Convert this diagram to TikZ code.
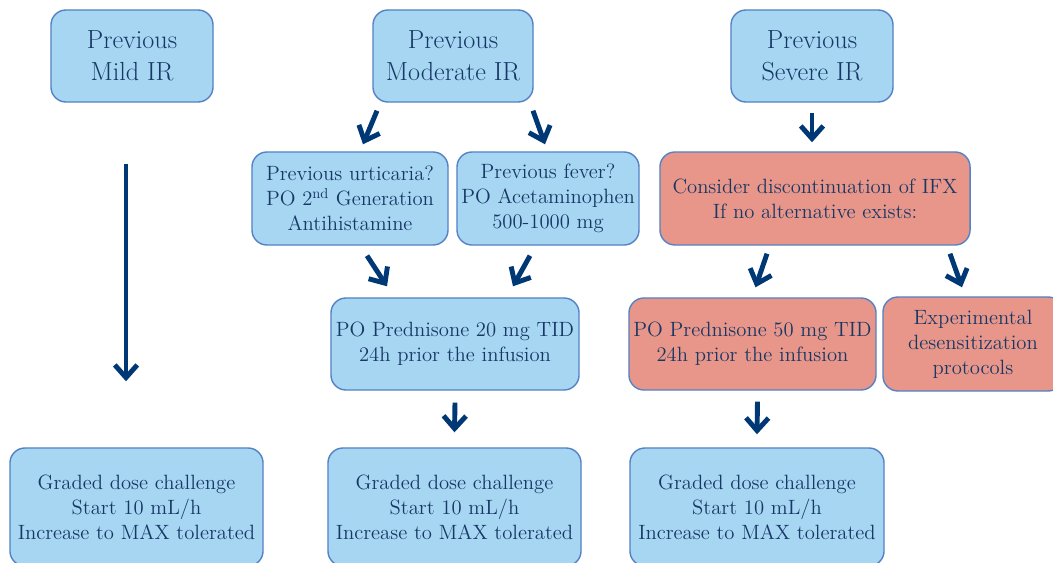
\documentclass[tikz,border=0pt]{standalone}
\usetikzlibrary{arrows.meta,calc}

\definecolor{boxblue}{RGB}{166,214,242}
\definecolor{boxred}{RGB}{233,150,138}
\definecolor{boxedge}{RGB}{84,130,196}
\definecolor{textnavy}{RGB}{23,55,100}
\definecolor{arrnavy}{RGB}{0,56,118}

\begin{document}
\begin{tikzpicture}[x=0.025cm, y=-0.025cm,
    box/.style={draw=boxedge, line width=1pt, rounded corners=0.375cm, align=center,
        text=textnavy, inner sep=0pt, font=\fontsize{14.7}{17.7}\selectfont},
    bluebox/.style={box, fill=boxblue},
    redbox/.style={box, fill=boxred},
    headbox/.style={bluebox, font=\fontsize{18.6}{22.7}\selectfont, minimum height=2.3cm},
    arr/.style={draw=arrnavy, line width=3.5pt, -{Straight Barb[length=9pt, width=16pt]}}]

    \useasboundingbox (0,0) rectangle (1053,563);
    \clip (0,0) rectangle (1053,563);

    % top row
    \node[headbox, minimum width=4.05cm] (mild) at (132,56) {Previous\\Mild IR};
    \node[headbox, minimum width=4cm] (moder) at (453,56) {Previous\\Moderate IR};
    \node[headbox, minimum width=4.05cm] (severe) at (812,56) {Previous\\Severe IR};

    % second row
    \node[bluebox, minimum width=4.9cm, minimum height=2.325cm] (urtic) at (350,198.5)
        {Previous urticaria?\\PO 2\textsuperscript{nd} Generation\\Antihistamine};
    \node[bluebox, minimum width=4.55cm, minimum height=2.325cm] (fever) at (548,198.5)
        {Previous fever?\\PO Acetaminophen\\500-1000 mg};
    \node[redbox, minimum width=7.75cm, minimum height=2.325cm] (discont) at (815,198.5)
        {Consider discontinuation of IFX\\If no alternative exists:};

    % third row
    \node[bluebox, minimum width=6.2cm, minimum height=2.3cm] (predA) at (455,344)
        {PO Prednisone 20 mg TID\\24h prior the infusion};
    \node[redbox, minimum width=6.175cm, minimum height=2.3cm] (predB) at (752.5,344)
        {PO Prednisone 50 mg TID\\24h prior the infusion};
    \node[redbox, minimum width=4.5cm, minimum height=2.35cm] (desens) at (973,344)
        {Experimental\\desensitization\\protocols};

    % bottom row
    \node[bluebox, minimum width=6.325cm, minimum height=2.95cm] (gradA) at (136.5,507)
        {Graded dose challenge\\Start 10 mL/h\\Increase to MAX tolerated};
    \node[bluebox, minimum width=6.325cm, minimum height=2.95cm] (gradB) at (454.5,507)
        {Graded dose challenge\\Start 10 mL/h\\Increase to MAX tolerated};
    \node[bluebox, minimum width=6.35cm, minimum height=2.95cm] (gradC) at (757,507)
        {Graded dose challenge\\Start 10 mL/h\\Increase to MAX tolerated};

    % arrows
    \draw[arr] ($(mild.south)+(-6,61)$) -- ($(gradA.north)+(-10.5,-66)$);
    \draw[arr] ($(moder.south)+(-76,8)$) -- ($(urtic.north)+(13,-7)$);
    \draw[arr] ($(moder.south)+(80,8)$) -- ($(fever.north)+(-3,-7)$);
    \draw[arr] ($(urtic.south)+(17,10)$) -- ($(predA.north)+(-68,-11)$);
    \draw[arr] ($(fever.south)+(-18,10)$) -- ($(predA.north)+(58,-11)$);
    \draw[arr] ($(severe.south)+(0,10)$) -- ($(discont.north)+(-3,-9)$);
    \draw[arr] ($(discont.south)+(-48,8)$) -- ($(predB.north)+(3,-10)$);
    \draw[arr] ($(discont.south)+(135,8)$) -- ($(desens.north)+(-11,-9)$);
    \draw[arr] ($(predA.south)+(0,12)$) -- ($(gradB.north)+(0,-15)$);
    \draw[arr] ($(predB.south)+(5,11)$) -- ($(gradC.north)+(0,-13)$);
\end{tikzpicture}
\end{document}
